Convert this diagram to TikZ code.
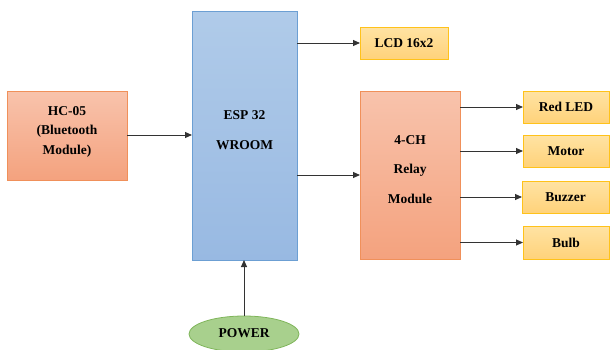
\documentclass[tikz,border=0pt]{standalone}
\usepackage{fontspec}
\setmainfont{Liberation Serif}
\usetikzlibrary{arrows.meta,shapes.geometric}
\definecolor{orT}{HTML}{F8C3AC}
\definecolor{orB}{HTML}{F4A27E}
\definecolor{orD}{HTML}{F0905A}
\definecolor{blT}{HTML}{B0CBE9}
\definecolor{blB}{HTML}{98B9E2}
\definecolor{blD}{HTML}{6C9FD3}
\definecolor{yeT}{HTML}{FFE3A3}
\definecolor{yeB}{HTML}{FFD27A}
\definecolor{yeD}{HTML}{FFC21A}
\definecolor{grF}{HTML}{A8D08D}
\definecolor{grD}{HTML}{7FB55A}
\definecolor{arr}{HTML}{333333}
\tikzset{
  x=1pt, y=-1pt,
  every node/.style={font=\fontsize{13.5}{15}\selectfont\bfseries, align=center, inner sep=0pt, outer sep=0pt},
  orbox/.style={draw=orD, line width=0.8pt, top color=orT, bottom color=orB},
  blbox/.style={draw=blD, line width=0.8pt, top color=blT, bottom color=blB},
  yebox/.style={draw=yeD, line width=0.8pt, top color=yeT, bottom color=yeB},
  arrow/.style={draw=arr, line width=1pt, -{Triangle[length=7pt,width=6pt]}}
}
\begin{document}
\begin{tikzpicture}
\useasboundingbox (0,0) rectangle (610,349);
% boxes
\node[orbox, minimum width=120pt, minimum height=89pt] (hc) at (67,135.5) {};
\node at (67,111) {HC-05};
\node at (67,131) {(Bluetooth};
\node at (67,151) {Module)};
\node[blbox, minimum width=105pt, minimum height=249pt] (esp) at (244.5,135.5) {};
\node at (244.5,115) {ESP 32};
\node at (244.5,145) {WROOM};
\node[yebox, minimum width=88pt, minimum height=32pt] (lcd) at (404,43) {LCD 16x2};
\node[orbox, minimum width=100pt, minimum height=168pt] (relay) at (410,175) {};
\node at (410,140) {4-CH};
\node at (410,170) {Relay};
\node at (410,199) {Module};
\node[yebox, minimum width=86pt, minimum height=32pt] (led) at (566,107) {Red LED};
\node[yebox, minimum width=86pt, minimum height=32pt] (motor) at (566,151) {Motor};
\node[yebox, minimum width=87pt, minimum height=32pt] (buzz) at (565.5,197) {Buzzer};
\node[yebox, minimum width=86pt, minimum height=33pt] (bulb) at (566,242.5) {Bulb};
\node[ellipse, draw=grD, line width=0.8pt, fill=grF, minimum width=110pt, minimum height=36pt] (pow) at (244,334) {};
\node at (244,333) {POWER};
% arrows
\draw[arrow] (hc.east |- 0,135) -- (esp.west |- 0,135);
\draw[arrow] (esp.east |- 0,43) -- (lcd.west);
\draw[arrow] (esp.east |- 0,175) -- (relay.west);
\draw[arrow] (relay.east |- led.west) -- (led.west);
\draw[arrow] (relay.east |- motor.west) -- (motor.west);
\draw[arrow] (relay.east |- buzz.west) -- (buzz.west);
\draw[arrow] (relay.east |- bulb.west) -- (bulb.west);
\draw[arrow] (pow.north) -- (esp.south -| pow.north);
\end{tikzpicture}
\end{document}
